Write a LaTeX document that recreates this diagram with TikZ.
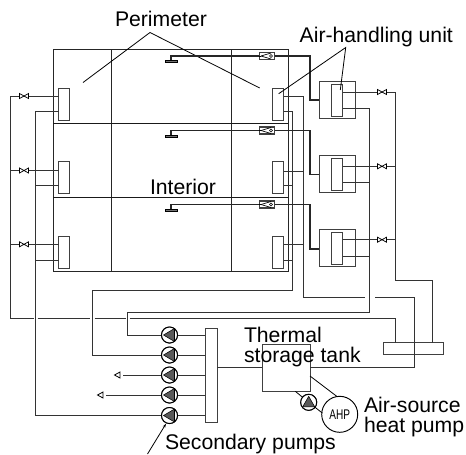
\documentclass[tikz,border=0pt]{standalone}
\usepackage{fontspec}
\setmainfont{Liberation Sans}
\usetikzlibrary{arrows.meta}
\tikzset{
  pipe/.style={line width=0.72pt,draw=black!80},
  thin line/.style={line width=0.6pt,draw=black},
  wall/.style={line width=0.62pt,draw=black!85},
  floorline/.style={line width=0.7pt,draw=black!90},
  duct/.style={line width=1.3pt,draw=black!85},
  box/.style 2 args={draw=black!75,line width=0.72pt,fill=white,rectangle,inner sep=0pt,outer sep=0pt,minimum width=#1*0.75pt,minimum height=#2*0.75pt},
  pumpnode/.style={draw=black,line width=0.75pt,fill=white,circle,inner sep=0pt,outer sep=0pt,minimum size=16*0.75pt},
  lab/.style={anchor=base west,inner sep=0pt,outer sep=0pt,font=\fontsize{15.9pt}{18pt}\selectfont},
  vbow/.style={draw=black,line width=0.55pt,fill=white},
}
\begin{document}
\begin{tikzpicture}[x=0.75pt,y=-0.75pt]
\useasboundingbox (0,0) rectangle (466,454);
% building
\coordinate (bTL) at (53,49.5); \coordinate (bBR) at (288,271);
\draw[wall] (bTL) rectangle (bBR);
\coordinate (w1t) at (111,49.5); \coordinate (w1b) at (111,271);
\coordinate (w2t) at (231,49.5); \coordinate (w2b) at (231,271);
\draw[wall] (w1t) -- (w1b);
\draw[wall] (w2t) -- (w2b);
\coordinate (f1l) at (53,123.3); \coordinate (f1r) at (288,123.3);
\coordinate (f2l) at (53,197.5); \coordinate (f2r) at (288,197.5);
\draw[floorline] (f1l) -- (f1r);
\draw[floorline] (f2l) -- (f2r);
% leaders
\coordinate (perA) at (150,32.5); \coordinate (perL) at (83,82.5); \coordinate (perR) at (259.7,88);
\draw[thin line] (perL) -- (perA) -- (perR);
\coordinate (ahA) at (345.7,47.5); \coordinate (ahL) at (278.7,93.7); \coordinate (ahR) at (340.3,90);
% equipment nodes
\foreach \i/\yc in {1/104,2/177.75,3/252.25}{
  \node[box={10.5}{32}] (ul\i) at (63.75,\yc) {};
  \node[box={11}{32}] (ur\i) at (278.2,\yc) {};
}
\node[box={36}{37}] (ahu1) at (337.3,100) {};
\node[box={36}{37}] (ahu2) at (337.3,174.2) {};
\node[box={36}{37}] (ahu3) at (337.3,248.2) {};
\node[box={11.4}{32}] (ahi1) at (337,100.5) {};
\node[box={11.4}{32}] (ahi2) at (337,174) {};
\node[box={11.4}{32}] (ahi3) at (337,248.5) {};
\node[box={12}{94.3}] (hdr) at (211,375.2) {};
\node[box={60.3}{11.6}] (hdrR) at (413.2,348.5) {};
\node[box={48}{46.6}] (tank) at (286,368) {};
\node[pumpnode] (p1) at (169.5,335) {};
\node[pumpnode] (p2) at (169.5,355) {};
\node[pumpnode] (p3) at (169.5,375) {};
\node[pumpnode] (p4) at (169.5,395) {};
\node[pumpnode] (p5) at (169.5,415.5) {};
\node[pumpnode] (p6) at (308.7,402.3) {};
\node[draw=black,line width=0.7pt,fill=white,circle,inner sep=0pt,outer sep=0pt,minimum size=36*0.75pt] (ahp) at (339.7,414.3) {\fontsize{10.5pt}{10.5pt}\selectfont\scalebox{0.72}[1]{AHP}};
% left pipes
\coordinate (lo0) at (10.5,96); \coordinate (lo1) at (10.5,318.7);
\draw[pipe] (lo0) -- (lo1);
\coordinate (li0) at (35.5,111); \coordinate (li1) at (35.5,415.5);
\draw[pipe] (li0) -- (li1);
\draw[pipe] (li1) -- (p5);
\foreach \i/\ys/\yr in {1/96/111,2/170.5/185.5,3/244.3/260.3}{
  \coordinate (ls\i) at (10.5,\ys);
  \coordinate (lr\i) at (35.5,\yr);
  \draw[pipe] (ls\i) -- (ls\i -| ul\i.west);
  \draw[pipe] (lr\i) -- (lr\i -| ul\i.west);
  \coordinate (vl\i) at (24,\ys);
}
% bottom horizontal with gaps
\coordinate (b0) at (33.5,318.7); \coordinate (b1) at (37.5,318.7);
\coordinate (b2) at (90,318.7); \coordinate (b3) at (94.5,318.7);
\coordinate (b4) at (125.5,318.7); \coordinate (b5) at (129.5,318.7);
\coordinate (b6) at (395.3,318.7);
\draw[pipe] (lo1) -- (b0);
\draw[pipe] (b1) -- (b2);
\draw[pipe] (b3) -- (b4);
\draw[pipe] (b5) -- (b6) -- (b6 |- hdrR.north);
% right return riser (x=292.3)
\coordinate (rr0) at (292.3,111); \coordinate (rr1) at (292.3,290.3); \coordinate (rr2) at (92.5,290.3); \coordinate (rr3) at (92.5,355);
\draw[pipe] (rr0) -- (rr1) -- (rr2) -- (rr3) -- (p2);
% right supply riser (x=303.7)
\coordinate (rs0) at (303.7,96); \coordinate (rs1) at (303.7,297); \coordinate (rs2) at (364.7,297); \coordinate (rs3) at (375.3,297);
\coordinate (rs4) at (414.7,297); \coordinate (rs5) at (414.7,367.7);
\draw[pipe] (rs0) -- (rs1) -- (rs2);
\draw[pipe] (rs3) -- (rs4) -- (rs5) -- (tank.east |- rs5);
\coordinate (tl) at (262,367.7);
\draw[pipe] (tl) -- (tl -| hdr.east);
\foreach \i/\ys/\yr in {1/96/111,2/171/185.5,3/244.3/260.3}{
  \coordinate (rsb\i) at (303.7,\ys);
  \coordinate (rrb\i) at (292.3,\yr);
  \draw[pipe] (rsb\i) -- (rsb\i -| ur\i.east);
  \draw[pipe] (rrb\i) -- (rrb\i -| ur\i.east);
}
% AHU water side
\coordinate (ar0) at (369.7,108); \coordinate (ar1) at (369.7,312); \coordinate (ar2) at (127,312); \coordinate (ar3) at (127,335);
\draw[pipe] (ar0) -- (ar1) -- (ar2) -- (ar3) -- (p1);
\coordinate (as0) at (395.7,92); \coordinate (as1) at (395.7,280.3); \coordinate (as2) at (432.3,280.3);
\draw[pipe] (as0) -- (as1) -- (as2) -- (as2 |- hdrR.north);
\foreach \i/\ys/\yr in {1/92/108,2/166.3/182.7,3/239.7/256.3}{
  \coordinate (asb\i) at (395.7,\ys);
  \coordinate (arb\i) at (369.7,\yr);
  \draw[pipe] (asb\i) -- (asb\i -| ahi\i.east);
  \draw[pipe] (arb\i) -- (arb\i -| ahi\i.east);
  \coordinate (vr\i) at (382,\ys);
}
% pumps to header
\foreach \i in {1,...,5}{ \draw[pipe] (p\i) -- (p\i -| hdr.west); }
% free branches with open triangles
\coordinate (fa) at (123,375); \coordinate (fb) at (106,395);
\draw[pipe] (fa) -- (p3);
\draw[pipe] (fb) -- (p4);
\coordinate (ta) at (114.5,375); \coordinate (tb) at (97.5,395);
\draw[line width=0.6pt,draw=black,fill=white] (ta) -- ++(5.5,-3) -- ++(0,6) -- cycle;
\draw[line width=0.6pt,draw=black,fill=white] (tb) -- ++(5.5,-3) -- ++(0,6) -- cycle;
% heat pump loop
\coordinate (tb0) at (295.3,391.3); \coordinate (ap0) at (322.3,413);
\draw[thin line] (tb0) -- (p6);
\draw[thin line] (p6) -- (ap0);
\coordinate (te0) at (310,376); \coordinate (ap1) at (337,396.5);
\draw[thin line] (te0) -- (ap1);
% pump circles and triangles, over the pipes
\foreach \i in {1,...,6}{ \node[pumpnode] at (p\i) {}; }
\foreach \i in {1,...,5}{
  \fill[black!65,draw=black,line width=0.4pt] (p\i) ++(-6,0) -- ++(11,-6.5) -- ++(0,13) -- cycle;
}
\fill[black!65,draw=black,line width=0.4pt] (p6) ++(0,-6) -- ++(6,10.5) -- ++(-12,0) -- cycle;
% valves
\foreach \v in {vl1,vl2,vl3,vr1,vr2,vr3}{
  \draw[vbow] (\v) ++(-4.5,-2.5) -- ++(9,5) -- ++(0,-5) -- ++(-9,5) -- cycle;
}
% ducts, diffusers and dampers
\foreach \i/\y/\yb in {1/56/100,2/130.5/174.5,3/204.5/248.7}{
  \coordinate (d0\i) at (171,\y+5);
  \coordinate (d1\i) at (171,\y);
  \coordinate (d2\i) at (310.3,\y);
  \coordinate (d3\i) at (310.3,\yb);
  \draw[duct] (d0\i) -- (d1\i) -- (d2\i) -- (d3\i) -- (d3\i -| ahu\i.west);
  \draw[draw=black,line width=0.4pt,fill=black!55] (165,\y+4.5) rectangle (177,\y+6.5);
  \node[draw=black!75,line width=0.9pt,fill=white,rectangle,inner sep=0pt,outer sep=0pt,minimum width=15*0.75pt,minimum height=7*0.75pt] (dm\i) at (266.8,\y) {};
  \draw[line width=0.5pt] (261,\y) -- (271,\y-3);
  \draw[line width=0.5pt] (261,\y) -- (271,\y+3);
  \draw[line width=0.5pt] (dm\i.west) -- (261,\y);
  \draw[line width=0.5pt] (271,\y) circle[radius=1.5];
}
% AHU leaders (over the units)
\draw[thin line] (ahL) -- (ahA) -- (ahR);
\coordinate (spA) at (147.5,454); \coordinate (spB) at (166,423.7);
\draw[thin line,-{Stealth[length=3pt,width=2pt]}] (spA) -- (spB);
% labels
\node[lab] (tPer) at (115,26) {Perimeter};
\node[lab] (tInt) at (150,194) {Interior};
\node[lab] (tAir) at (299.7,42.7) {Air-handling unit};
\node[lab] (tThe) at (244,342) {Thermal};
\node[lab] (tSto) at (244,362.7) {storage tank};
\node[lab] (tAsr) at (364,412) {Air-source};
\node[lab] (tHea) at (364,432.7) {heat pump};
\node[lab] (tSec) at (165,449.7) {Secondary pumps};
\end{tikzpicture}
\end{document}
